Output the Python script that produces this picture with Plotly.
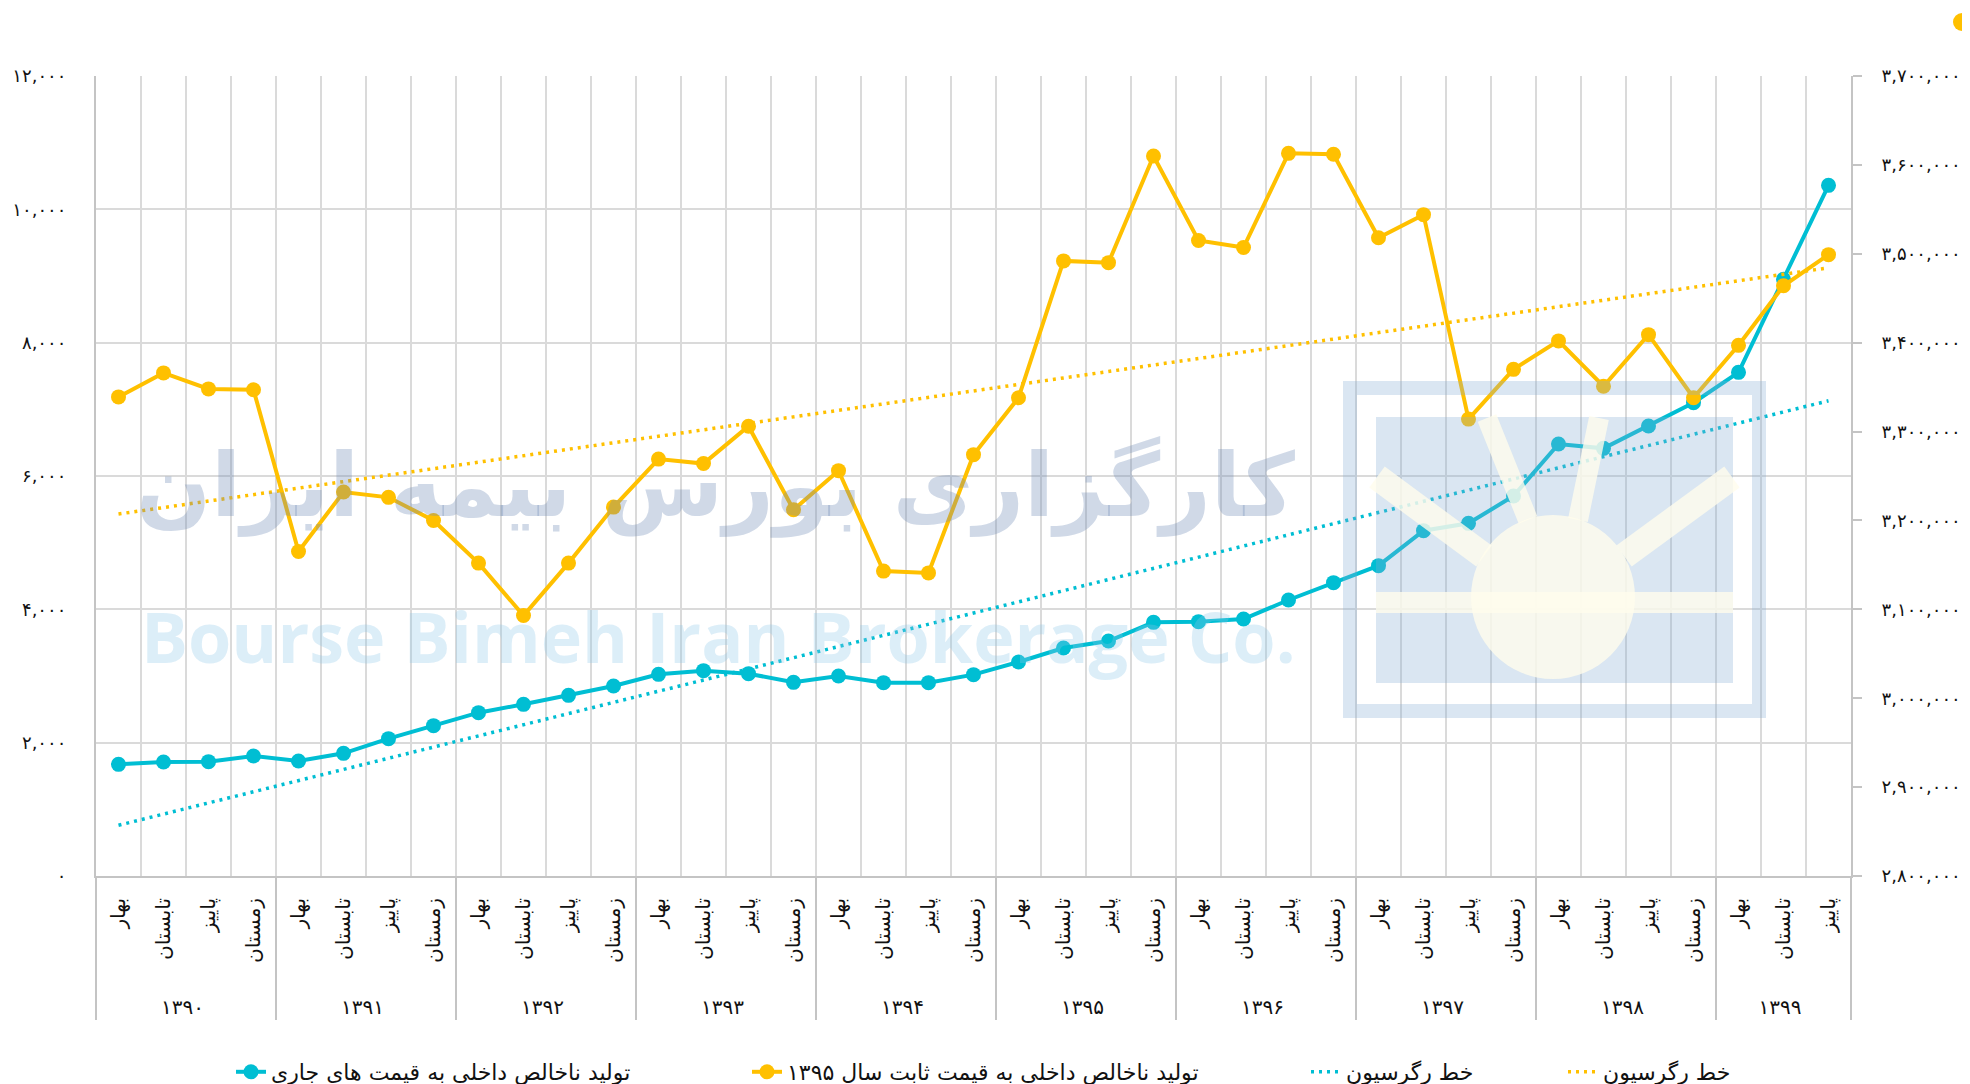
import numpy as np
import plotly.graph_objects as go

# ---------------- data ----------------
years = ['۱۳۹۰', '۱۳۹۱', '۱۳۹۲', '۱۳۹۳', '۱۳۹۴', '۱۳۹۵', '۱۳۹۶', '۱۳۹۷', '۱۳۹۸', '۱۳۹۹']
seasons = ['بهار', 'تابستان', 'پاییز', 'زمستان']
quarters_per_year = [4, 4, 4, 4, 4, 4, 4, 4, 4, 3]

# GDP at current prices (left axis)
gdp_current = [1675, 1710, 1715, 1800, 1725, 1840, 2060, 2255, 2450, 2575,
               2710, 2850, 3025, 3080, 3035, 2905, 3000, 2900, 2900, 3020,
               3210, 3420, 3525, 3805, 3815, 3855, 4140, 4400, 4655, 5180,
               5290, 5700, 6480, 6415, 6750, 7100, 7555, 8950, 10360]

# GDP at constant 1395 prices (right axis)
gdp_constant = [3339000, 3366000, 3348000, 3347000, 3165000, 3232000, 3226000, 3200000,
                3152000, 3093000, 3152000, 3215000, 3269000, 3264000, 3306000, 3212000,
                3256000, 3143000, 3141000, 3274000, 3338000, 3492000, 3490000, 3610000,
                3515000, 3507000, 3613000, 3612000, 3518000, 3544000, 3314000, 3370000,
                3402000, 3351000, 3409000, 3338000, 3397000, 3464000, 3499000]

left_tickvals = [0, 2000, 4000, 6000, 8000, 10000, 12000]
left_ticktext = ['۰', '۲,۰۰۰', '۴,۰۰۰', '۶,۰۰۰', '۸,۰۰۰', '۱۰,۰۰۰', '۱۲,۰۰۰']
right_tickvals = [2800000, 2900000, 3000000, 3100000, 3200000,
                  3300000, 3400000, 3500000, 3600000, 3700000]
right_ticktext = ['۲,۸۰۰,۰۰۰', '۲,۹۰۰,۰۰۰', '۳,۰۰۰,۰۰۰', '۳,۱۰۰,۰۰۰', '۳,۲۰۰,۰۰۰',
                  '۳,۳۰۰,۰۰۰', '۳,۴۰۰,۰۰۰', '۳,۵۰۰,۰۰۰', '۳,۶۰۰,۰۰۰', '۳,۷۰۰,۰۰۰']

name_current = 'تولید ناخالص داخلی به قیمت های جاری'
name_constant = 'تولید ناخالص داخلی به قیمت ثابت سال ۱۳۹۵'
name_trend = 'خط رگرسیون'
watermark_fa = 'کارگزاری بورس بیمه ایران'
watermark_en = 'Bourse Bimeh Iran Brokerage Co.'

# ---------------- derived ----------------
PAD = '\u00a0\u00a0\u00a0\u00a0'   # invisible lead so the year row sits lower, as in the original
x_year = [y for y, n in zip(years, quarters_per_year) for _ in range(n)]
x_season = [PAD + s for n in quarters_per_year for s in seasons[:n]]
xcat = [x_year, x_season]

idx = np.arange(len(gdp_current))
c_fit = np.polyfit(idx, gdp_current, 1)
k_fit = np.polyfit(idx, gdp_constant, 1)
trend_current = np.polyval(c_fit, idx)
trend_constant = np.polyval(k_fit, idx)

CYAN = '#00BED3'
GOLD = '#FFC000'
GRID = '#DADADA'
AXIS = '#C4C4C4'
FONT = 'DejaVu Sans'
TXT = '#111111'

fig = go.Figure()
fig.add_trace(go.Scatter(x=xcat, y=gdp_current, mode='lines+markers', name=name_current,
                         line=dict(color=CYAN, width=4), marker=dict(size=15, color=CYAN),
                         legend='legend', showlegend=True))
fig.add_trace(go.Scatter(x=xcat, y=trend_current, mode='lines', name=name_trend,
                         line=dict(color=CYAN, width=3.5, dash='3px,5px'),
                         legend='legend3', showlegend=True))
fig.add_trace(go.Scatter(x=xcat, y=gdp_constant, mode='lines+markers', name=name_constant,
                         yaxis='y2', line=dict(color=GOLD, width=4),
                         marker=dict(size=15, color=GOLD), legend='legend2', showlegend=True))
fig.add_trace(go.Scatter(x=xcat, y=trend_constant, mode='lines', name=name_trend,
                         yaxis='y2', line=dict(color=GOLD, width=3.5, dash='3px,5px'),
                         legend='legend4', showlegend=True))

# ---------------- layout (screen pixels; the page body adds an 8px offset) ----------------
OFF = 8
W, H = 1970 - OFF, 1084 - OFF
L, R, T, B = 96, 1851, 76, 876          # plot area in screen pixels
def px(X):
    return (X - L) / (R - L)
def py(Y):
    return (B - Y) / (B - T)

shapes = []
LOGO_BLUE = 'rgba(132,172,212,0.30)'
LOGO_SUN = 'rgba(255,252,236,0.80)'
# outer frame band
shapes.append(dict(type='rect', xref='paper', yref='paper', layer='above',
                   x0=px(1350), x1=px(1759), y0=py(711), y1=py(388),
                   line=dict(color=LOGO_BLUE, width=14), fillcolor='rgba(0,0,0,0)'))
# inner panel
shapes.append(dict(type='rect', xref='paper', yref='paper', layer='above',
                   x0=px(1376), x1=px(1733), y0=py(683), y1=py(417),
                   line=dict(width=0), fillcolor=LOGO_BLUE))
# horizontal band
shapes.append(dict(type='rect', xref='paper', yref='paper', layer='above',
                   x0=px(1376), x1=px(1733), y0=py(613), y1=py(592),
                   line=dict(width=0), fillcolor=LOGO_SUN))
# rays
for (xa, ya, xb, yb, w) in [(1377, 477, 1484, 556, 26), (1732, 477, 1624, 556, 26),
                            (1487, 418, 1528, 520, 20), (1599, 418, 1578, 520, 20)]:
    shapes.append(dict(type='line', xref='paper', yref='paper', layer='above',
                       x0=px(xa), y0=py(ya), x1=px(xb), y1=py(yb),
                       line=dict(color=LOGO_SUN, width=w)))
# sun
shapes.append(dict(type='circle', xref='paper', yref='paper', layer='above',
                   x0=px(1471), x1=px(1635), y0=py(679), y1=py(515),
                   line=dict(width=0), fillcolor=LOGO_SUN))
# clipped dot in the top-right corner
shapes.append(dict(type='circle', xref='paper', yref='paper', layer='above',
                   x0=px(1953), x1=px(1971), y0=py(31), y1=py(13),
                   line=dict(width=0), fillcolor=GOLD))

annotations = [
    dict(text='<b>' + watermark_fa + '</b>', xref='paper', yref='paper',
         x=px(716), y=py(486), showarrow=False, xanchor='center', yanchor='middle',
         font=dict(family=FONT, size=88, color='rgba(110,138,180,0.32)')),
    dict(text='<b>' + watermark_en + '</b>', xref='paper', yref='paper',
         x=px(718), y=py(636), showarrow=False, xanchor='center', yanchor='middle',
         font=dict(family='Open Sans', size=70, color='rgba(138,198,232,0.30)')),
]

legend_common = dict(orientation='h', yref='paper', y=py(1072), yanchor='middle',
                     xanchor='left', font=dict(family=FONT, size=22, color=TXT),
                     bgcolor='rgba(0,0,0,0)')

fig.update_layout(
    width=W, height=H,
    margin=dict(l=L - OFF, r=W - (R - OFF), t=T - OFF, b=H - (B - OFF), autoexpand=False),
    paper_bgcolor='white', plot_bgcolor='white',
    font=dict(family=FONT, size=18, color=TXT),
    showlegend=True,
    xaxis=dict(type='multicategory', range=[-0.5, len(gdp_current) - 0.5],
               automargin=False,
               showgrid=True, gridcolor=GRID, gridwidth=1.5,
               tickangle=-90, tickfont=dict(family=FONT, size=20, color=TXT),
               ticklabelstandoff=12,
               showline=True, linecolor=AXIS, linewidth=2,
               showdividers=True, dividercolor=AXIS, dividerwidth=2, ticks=''),
    yaxis=dict(range=[0, 12000], tickvals=left_tickvals, ticktext=left_ticktext,
               automargin=False,
               showgrid=True, gridcolor=GRID, gridwidth=1.5, zeroline=False,
               showline=True, linecolor=AXIS, linewidth=2, ticks='',
               ticklabelstandoff=24, tickfont=dict(family=FONT, size=18, color=TXT)),
    yaxis2=dict(range=[2800000, 3700000], tickvals=right_tickvals, ticktext=right_ticktext,
                automargin=False,
                overlaying='y', side='right', showgrid=False, zeroline=False,
                showline=True, linecolor=AXIS, linewidth=2,
                ticks='outside', ticklen=9, tickwidth=2, tickcolor=AXIS,
                ticklabelstandoff=16, tickfont=dict(family=FONT, size=18, color=TXT)),
    legend=dict(legend_common, x=px(231)),
    legend2=dict(legend_common, x=px(747)),
    legend3=dict(legend_common, x=px(1306)),
    legend4=dict(legend_common, x=px(1563)),
    shapes=shapes,
    annotations=annotations,
    hovermode=False,
)

fig.write_html('out.html')
